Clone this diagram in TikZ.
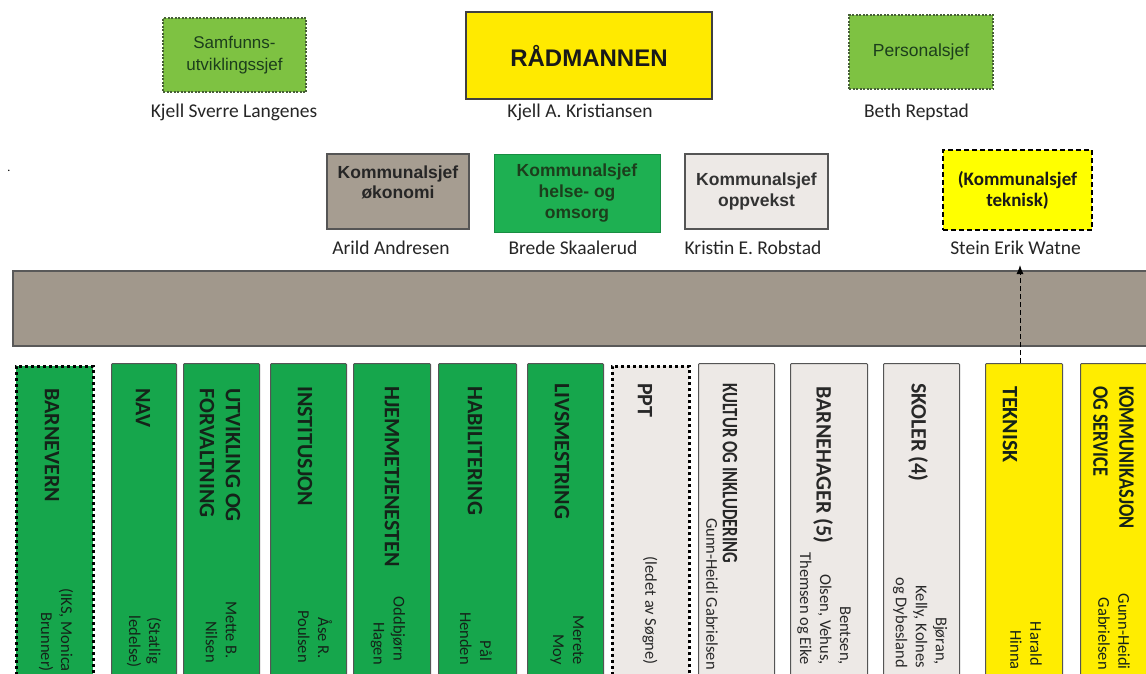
\documentclass[tikz,border=0pt]{standalone}
\usepackage{fontspec}
\setmainfont{Carlito}
\newfontfamily\arial{Liberation Sans}
\usetikzlibrary{arrows.meta}
\definecolor{lgreen}{RGB}{126,194,66}
\definecolor{lgreenline}{RGB}{70,95,55}
\definecolor{dgreentxt}{RGB}{28,62,28}
\definecolor{cgreen}{RGB}{22,166,76}
\definecolor{hgreen}{RGB}{30,176,82}
\definecolor{taupe}{RGB}{166,157,145}
\definecolor{bartaupe}{RGB}{161,152,140}
\definecolor{lgrey}{RGB}{237,233,230}
\definecolor{cyellow}{RGB}{255,237,0}
\definecolor{ryellow}{RGB}{255,234,0}
\definecolor{tyellow}{RGB}{255,255,0}
\definecolor{bordergrey}{RGB}{85,85,85}
\definecolor{ctxt}{RGB}{20,35,25}
\definecolor{gtxt}{RGB}{40,40,40}
\tikzset{
  greenbox/.style={draw=lgreenline, fill=lgreen, line width=1.4pt, dash pattern=on 2pt off 1.5pt, inner sep=0pt},
  midbox/.style={draw=bordergrey, line width=1.6pt, inner sep=0pt},
  person/.style={font=\fontsize{19.5}{22}\selectfont, text=black!85, inner sep=0pt, anchor=base},
  colbox/.style={draw=bordergrey, line width=1pt, rounded corners=1pt, minimum height=380pt, anchor=north west, inner sep=0pt},
  dotbox/.style={draw=black, line width=3.2pt, dash pattern=on 3pt off 3pt, minimum height=380pt, anchor=north west, inner sep=0pt},
  coltitle/.style={rotate=-90, anchor=west, inner sep=0pt, align=left, font=\bfseries\fontsize{22}{26}\selectfont},
  colname/.style={rotate=-90, anchor=east, inner sep=0pt, align=right, font=\fontsize{16.5}{20}\selectfont},
}
\begin{document}
\begin{tikzpicture}[x=1pt,y=-1pt]
\clip (0,0) rectangle (1146,673);
\fill[white] (0,0) rectangle (1146,673);

% top row
\node[greenbox, minimum width=143pt, minimum height=74pt, align=center, text=dgreentxt, font=\arial\fontsize{17}{22}\selectfont] (samf) at (234.5,55) {Samfunns-\\utviklingssjef};
\node[draw=black!75, line width=1.3pt, fill=ryellow, minimum width=246pt, minimum height=87pt, inner sep=0pt, font=\arial\bfseries\fontsize{24}{28}\selectfont, text=black!90] (rad) at (589,55.5) {RÅDMANNEN};
\node[greenbox, minimum width=144pt, minimum height=74pt, text=dgreentxt, font=\arial\fontsize{17.5}{22}\selectfont] (pers) at (921,52) {Personalsjef};

\node[person] (n1) at (234,117) {Kjell Sverre Langenes};
\node[person] (n2) at (580,117) {Kjell A. Kristiansen};
\node[person] (n3) at (916.5,117) {Beth Repstad};

\node[inner sep=0pt, font=\fontsize{12}{12}\selectfont] (dot) at (9,171) {.};

% middle row
\node[midbox, fill=taupe, minimum width=142pt, minimum height=75pt] (oko) at (398,191.5) {};
\node[inner sep=0pt, align=center, font=\arial\bfseries\fontsize{17.5}{20}\selectfont, text=black!85] (okot) at (398,182) {Kommunalsjef\\økonomi};
\node[draw=hgreen!80!black, line width=1pt, fill=hgreen, minimum width=166pt, minimum height=78pt, inner sep=0pt, align=center, font=\arial\bfseries\fontsize{17.5}{21}\selectfont, text=dgreentxt] (hel) at (577,193) {Kommunalsjef\\helse- og\\omsorg};
\node[midbox, fill=lgrey, minimum width=143pt, minimum height=75pt, align=center, font=\arial\bfseries\fontsize{17.5}{21}\selectfont, text=black!80] (opp) at (756.5,191.5) {Kommunalsjef\\oppvekst};
\node[draw=black, line width=2pt, dash pattern=on 5pt off 3pt, fill=tyellow, minimum width=149pt, minimum height=80pt, inner sep=0pt, align=center, font=\bfseries\fontsize{19}{21}\selectfont, text=black!90] (tekb) at (1017.5,190) {(Kommunalsjef\\teknisk)};

\node[person] (m1) at (391,254) {Arild Andresen};
\node[person] (m2) at (573,254) {Brede Skaalerud};
\node[person] (m3) at (753,254) {Kristin E. Robstad};
\node[person] (m4) at (1015.5,254) {Stein Erik Watne};

% bar
\node[draw=black!65, line width=1.6pt, fill=bartaupe, minimum width=1150pt, minimum height=75pt, anchor=north west, inner sep=0pt] (bar) at (12,270) {};

% columns
\node[dotbox, fill=cgreen, minimum width=77pt] (barn) at (14.5,364.5) {};
\node[colbox, fill=cgreen, minimum width=65pt] (nav) at (111,363) {};
\node[colbox, fill=cgreen, minimum width=76pt] (utv) at (183,363) {};
\node[colbox, fill=cgreen, minimum width=76pt] (inst) at (270,363) {};
\node[colbox, fill=cgreen, minimum width=77pt] (hjem) at (353,363) {};
\node[colbox, fill=cgreen, minimum width=78pt] (habil) at (438,363) {};
\node[colbox, fill=cgreen, minimum width=76pt] (livs) at (527,363) {};
\node[dotbox, fill=lgrey, minimum width=77pt] (ppt) at (610.5,364.5) {};
\node[colbox, fill=lgrey, minimum width=76pt] (kult) at (698,363) {};
\node[colbox, fill=lgrey, minimum width=77pt] (bhage) at (790,363) {};
\node[colbox, fill=lgrey, minimum width=76pt] (skol) at (883,363) {};
\node[colbox, fill=cyellow, minimum width=77pt] (tek) at (985,363) {};
\node[colbox, fill=cyellow, minimum width=80pt] (komm) at (1080,363) {};

% column titles
\node[coltitle, text=ctxt] (t1) at (52,388) {BARNEVERN};
\node[coltitle, text=ctxt] (t2) at (143,388) {NAV};
\node[coltitle, text=ctxt] (t3) at (220,388) {UTVIKLING OG\\FORVALTNING};
\node[coltitle, text=ctxt] (t4) at (305,386) {INSTITUSJON};
\node[coltitle, text=ctxt] (t5) at (392,386) {HJEMMETJENESTEN};
\node[coltitle, text=ctxt] (t6) at (475,386) {HABILITERING};
\node[coltitle, text=ctxt] (t7) at (562,383) {LIVSMESTRING};
\node[coltitle, text=gtxt] (t8) at (645,383) {PPT};
\node[coltitle, text=gtxt] (t9) at (730,383) {\scalebox{0.76}[1]{KULTUR OG INKLUDERING}};
\node[coltitle, text=gtxt] (t10) at (823,386) {BARNEHAGER (5)};
\node[coltitle, text=gtxt] (t11) at (918,383) {SKOLER (4)};
\node[coltitle, text=ctxt] (t12) at (1010,386) {TEKNISK};
\node[coltitle, text=ctxt] (t13) at (1113.5,386) {\scalebox{0.83}[1]{KOMMUNIKASJON}\\\scalebox{0.83}[1]{OG SERVICE}};

% column names
\node[colname, text=ctxt] (p1) at (56,672) {(IKS, Monica\\Brunner)};
\node[colname, text=ctxt] (p2) at (144,668) {(Statlig\kern4pt\\ledelse)};
\node[colname, text=ctxt] (p3) at (221,663) {Mette B.\kern4pt\\Nilsen};
\node[colname, text=ctxt] (p4) at (315,663) {Åse R.\kern4pt\\Poulsen};
\node[colname, text=ctxt] (p5) at (388,665) {Oddbjørn\kern4pt\\Hagen};
\node[colname, text=ctxt] (p6) at (476,665) {Pål\kern4pt\\Henden};
\node[colname, text=ctxt] (p7) at (567,665) {Merete\\Moy};
\node[colname, text=gtxt] (p8) at (650,665) {(ledet av Søgne)};
\node[colname, text=gtxt] (p9) at (712,670) {Gunn-Heidi Gabrielsen};
\node[colname, text=gtxt] (p10) at (824,665) {Bentsen,\\Olsen, Vehus,\\Themsen og Eike};
\node[colname, text=gtxt] (p11) at (920,668) {Bjøran,\kern3pt\\Kelly, Kolnes\\og Dybesland};
\node[colname, text=ctxt] (p12) at (1026,670) {Harald\kern4pt\\Hinna};
\node[colname, text=ctxt] (p13) at (1114,670) {Gunn-Heidi\\Gabrielsen};

% arrow
\coordinate (tip) at (1020,265);
\draw[black, line width=1pt, dash pattern=on 5pt off 3pt, -{Latex[length=9pt,width=7pt]}] (tip |- tek.north) -- (tip);
\end{tikzpicture}
\end{document}
